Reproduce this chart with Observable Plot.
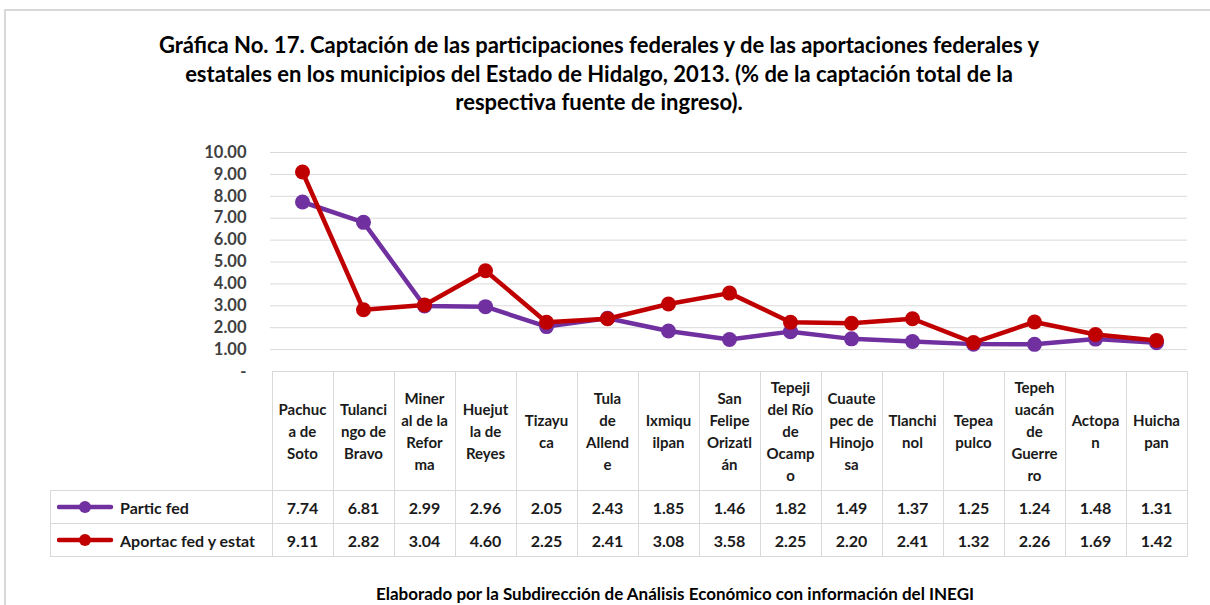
<!DOCTYPE html>
<html><head><meta charset="utf-8">
<script src="https://cdn.jsdelivr.net/npm/d3@7"></script>
<script src="https://cdn.jsdelivr.net/npm/@observablehq/plot@0.6"></script>
<style>
body{margin:0;background:#fff;font-family:Lato,"Open Sans",sans-serif;}
#page{position:relative;width:1210px;height:605px;overflow:hidden;background:#fff;}
#frame{position:absolute;left:4px;top:9px;width:1300px;height:700px;border-left:2px solid #d9d9d9;border-top:2px solid #d9d9d9;}
#title{position:absolute;left:0;width:1198px;top:31px;text-align:center;font-weight:700;font-size:22px;line-height:28.5px;color:#000;}
#chart{position:absolute;left:0;top:135px;}
#chart svg{overflow:visible;}
.cell{position:absolute;box-sizing:border-box;border:1px solid #d9d9d9;display:flex;align-items:center;justify-content:center;text-align:center;font-weight:700;font-size:16px;color:#1a1a1a;white-space:pre;}
.hdr{line-height:22px;font-size:15px;}
.leg{justify-content:flex-start;}
#caption{position:absolute;left:0;width:1350px;top:584px;text-align:center;font-weight:700;font-size:17px;line-height:19px;color:#000;}
</style></head>
<body>
<div id="page">
<div id="frame"></div>
<div id="title">Gráfica No. 17. Captación de las participaciones federales y de las aportaciones federales y<br>estatales en los municipios del Estado de Hidalgo, 2013. (% de la captación total de la<br>respectiva fuente de ingreso).</div>
<div id="chart"></div>
<div id="table"></div>
<div id="caption">Elaborado por la Subdirección de Análisis Económico con información del INEGI</div>
</div>
<script>
const categories = ["Pachuca de Soto","Tulancingo de Bravo","Mineral de la Reforma","Huejutla de Reyes","Tizayuca","Tula de Allende","Ixmiquilpan","San Felipe Orizatlán","Tepeji del Río de Ocampo","Cuautepec de Hinojosa","Tlanchinol","Tepeapulco","Tepehuacán de Guerrero","Actopan","Huichapan"];
const headerLabels = ["Pachuc\na de\nSoto","Tulanci\nngo de\nBravo","Miner\nal de la\nRefor\nma","Huejut\nla de\nReyes","Tizayu\nca","Tula\nde\nAllend\ne","Ixmiqu\nilpan","San\nFelipe\nOrizatl\nán","Tepeji\ndel Río\nde\nOcamp\no","Cuaute\npec de\nHinojo\nsa","Tlanchi\nnol","Tepea\npulco","Tepeh\nuacán\nde\nGuerre\nro","Actopa\nn","Huicha\npan"];
const particFed = [7.74,6.81,2.99,2.96,2.05,2.43,1.85,1.46,1.82,1.49,1.37,1.25,1.24,1.48,1.31];
const aportacFed = [9.11,2.82,3.04,4.60,2.25,2.41,3.08,3.58,2.25,2.20,2.41,1.32,2.26,1.69,1.42];
const seriesNames = ["Partic fed","Aportac fed y estat"];
const seriesColors = ["#7030A0","#C00000"];
const yTicks = [0,1,2,3,4,5,6,7,8,9,10];

const seriesValues = [particFed, aportacFed];
const data = seriesNames.flatMap((s,k)=>categories.map((c,i)=>({cat:c, series:s, value:seriesValues[k][i]})));
const fmt = d => d===0 ? "-" : d.toFixed(2);

const marks = [
  Plot.gridY(yTicks.filter(d=>d>0), {stroke:"#d9d9d9", strokeOpacity:1}),
  Plot.axisY(yTicks, {tickSize:0, tickPadding:24, fontSize:16.5, fontWeight:"bold", fill:"#404040", tickFormat:fmt, label:null})
];
seriesNames.forEach(s=>{
  const d = data.filter(r=>r.series===s);
  marks.push(Plot.line(d, {x:"cat", y:"value", stroke:"series", strokeWidth:4.5}));
  marks.push(Plot.dot(d, {x:"cat", y:"value", fill:"series", r:7.5}));
});

const chart = Plot.plot({
  width:1210, height:246, marginTop:17, marginBottom:10, marginLeft:270, marginRight:23,
  style:{fontFamily:"Lato, sans-serif", background:"transparent"},
  x:{type:"point", domain:categories, padding:0.5, axis:null},
  y:{domain:[0,10], axis:null},
  color:{domain:seriesNames, range:seriesColors},
  marks
});
document.getElementById("chart").appendChild(chart);

// Data table aligned to the chart's x scale
const xs = chart.scale("x");
const step = xs.apply(categories[1]) - xs.apply(categories[0]);
const top0 = 135 + chart.scale("y").apply(0);
const hdrH = 119, rowH = 33;
const table = document.getElementById("table");
const legLeft = 50;
function cell(cls, left, top, w, h, html){
  const d = document.createElement("div");
  d.className = "cell " + cls;
  d.style.left = left+"px"; d.style.top = top+"px";
  d.style.width = (w+1)+"px"; d.style.height = (h+1)+"px";
  d.innerHTML = html;
  table.appendChild(d);
  return d;
}
categories.forEach((c,i)=>{
  const left = xs.apply(c) - step/2;
  cell("hdr", left, top0, step, hdrH, "").textContent = headerLabels[i];
  seriesValues.forEach((vals,k)=>{
    cell("", left, top0+hdrH+k*rowH, step, rowH, "").textContent = vals[i].toFixed(2);
  });
});
const firstLeft = xs.apply(categories[0]) - step/2;
seriesNames.forEach((s,k)=>{
  const sw = `<svg width="58" height="16" style="margin:0 5px 0 6px;flex:none"><line x1="2" y1="8" x2="54" y2="8" stroke="${seriesColors[k]}" stroke-width="4.5" stroke-linecap="round"/><circle cx="28" cy="8" r="6" fill="${seriesColors[k]}"/></svg>`;
  cell("leg", legLeft, top0+hdrH+k*rowH, firstLeft-legLeft, rowH, sw + `<span>${s}</span>`);
});
</script>
</body></html>
